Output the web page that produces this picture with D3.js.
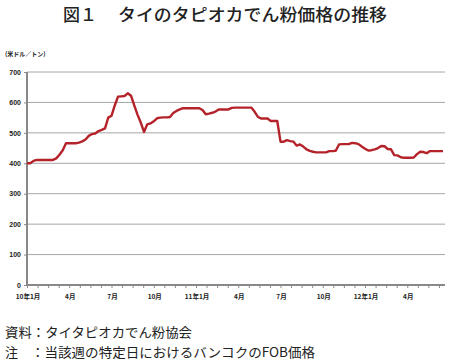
<!DOCTYPE html>
<html><head><meta charset="utf-8">
<script src="https://cdn.jsdelivr.net/npm/d3@7"></script>
<style>
body{margin:0;background:#fff;}
svg{display:block;}
</style></head>
<body>
<svg id="c" width="452" height="364"></svg>
<script>
const titleFig = "図１";
const titleText = "タイのタピオカでん粉価格の推移";
const unitLabel = "(米ドル／トン)";
const yTicks = [0,100,200,300,400,500,600,700];
const xLabels = ["10年1月","4月","7月","10月","11年1月","4月","7月","10月","12年1月","4月"];
const xLabelIdx = [0,13,26,39,52,65,78,91,104,117];
const prices = [
400,400,408,411,411,411,411,411,411,416,428,443,466,466,466,466,468,472,478,490,
496,498,506,510,515,550,556,590,619,620,621,630,622,590,560,534,503,528,531,538,
548,550,551,551,552,565,572,577,581,581,581,581,581,581,575,561,563,566,570,577,
577,577,577,582,583,583,583,583,583,583,570,553,547,547,547,539,539,539,471,471,
476,473,471,458,462,455,446,441,438,436,436,436,436,440,440,441,462,463,463,463,
467,466,463,455,448,442,443,446,450,457,456,447,446,427,426,420,418,418,418,419,
430,438,437,433,440,440,440,440,440];
const notes = ["資料：タイタピオカでん粉協会","当該週の特定日におけるバンコクのFOB価格"];

const svg = d3.select("#c");
const jp = "'Noto Sans CJK JP', sans-serif";
const x = d3.scaleLinear().domain([0, prices.length - 1]).range([27, 443]);
const y = d3.scaleLinear().domain([0, 700]).range([285, 72]);
const xEnd = 445;

// title
svg.append("text").attr("x", 63).attr("y", 21).attr("font-family", jp)
  .attr("font-size", 17).attr("font-weight", 500).attr("fill", "#222").text(titleFig);
svg.append("text").attr("x", 118).attr("y", 21).attr("font-family", jp)
  .attr("font-size", 17).attr("font-weight", 500).attr("fill", "#222")
  .attr("textLength", 269).attr("lengthAdjust", "spacingAndGlyphs").text(titleText);

// unit
svg.append("text").attr("x", 5).attr("y", 56).attr("font-family", jp)
  .attr("font-size", 6).attr("font-weight", "bold").attr("fill", "#222").text(unitLabel);

// gridlines
svg.append("g").selectAll("line").data(yTicks.filter(d => d > 0)).join("line")
  .attr("x1", x(0)).attr("x2", xEnd).attr("y1", d => y(d)).attr("y2", d => y(d))
  .attr("stroke", "#a6a6a6").attr("stroke-width", 1);

// y axis
const yAxis = d3.axisLeft(y).tickValues(yTicks).tickSize(3).tickPadding(3);
const gy = svg.append("g").attr("transform", `translate(${x(0)},0)`).call(yAxis);
gy.select(".domain").remove();
gy.selectAll(".tick line").attr("stroke", "#888");
gy.selectAll(".tick text").attr("font-family", "'Liberation Sans Narrow', 'Liberation Sans', sans-serif")
  .attr("font-size", 7).attr("font-weight", "bold").attr("fill", "#222");
svg.append("line").attr("x1", x(0)).attr("x2", x(0)).attr("y1", y(700)).attr("y2", y(0))
  .attr("stroke", "#888").attr("stroke-width", 2);

// x axis
const minorTicks = d3.range(0, prices.length, 3.25);
const xAxis = d3.axisBottom(x).tickValues(minorTicks).tickSize(3).tickFormat("");
const gx = svg.append("g").attr("transform", `translate(0,${y(0)})`).call(xAxis);
gx.select(".domain").remove();
gx.selectAll(".tick line").attr("stroke", "#888");
svg.append("line").attr("x1", x(0) - 1).attr("x2", xEnd).attr("y1", y(0)).attr("y2", y(0))
  .attr("stroke", "#888").attr("stroke-width", 2);
svg.append("g").selectAll("text").data(xLabels).join("text")
  .attr("x", (d, i) => x(xLabelIdx[i]) + 1).attr("y", 299)
  .attr("text-anchor", "middle")
  .attr("font-family", "'Liberation Sans Narrow', " + jp)
  .attr("font-size", 6.5).attr("font-weight", "bold").attr("fill", "#222").text(d => d);

// line
svg.append("path").datum(prices)
  .attr("fill", "none").attr("stroke", "#b5232a").attr("stroke-width", 2.4)
  .attr("stroke-linejoin", "round")
  .attr("d", d3.line().x((d, i) => x(i)).y(d => y(d)));

// notes
svg.append("text").attr("x", 5).attr("y", 337).attr("font-family", jp)
  .attr("font-size", 13).attr("fill", "#222")
  .attr("textLength", 187).attr("lengthAdjust", "spacingAndGlyphs").text(notes[0]);
svg.append("text").attr("x", 5).attr("y", 357).attr("font-family", jp)
  .attr("font-size", 13).attr("fill", "#222").text("注");
svg.append("text").attr("x", 31).attr("y", 357).attr("font-family", jp)
  .attr("font-size", 13).attr("fill", "#222")
  .attr("textLength", 284).attr("lengthAdjust", "spacingAndGlyphs").text("：" + notes[1]);
</script>
</body></html>
